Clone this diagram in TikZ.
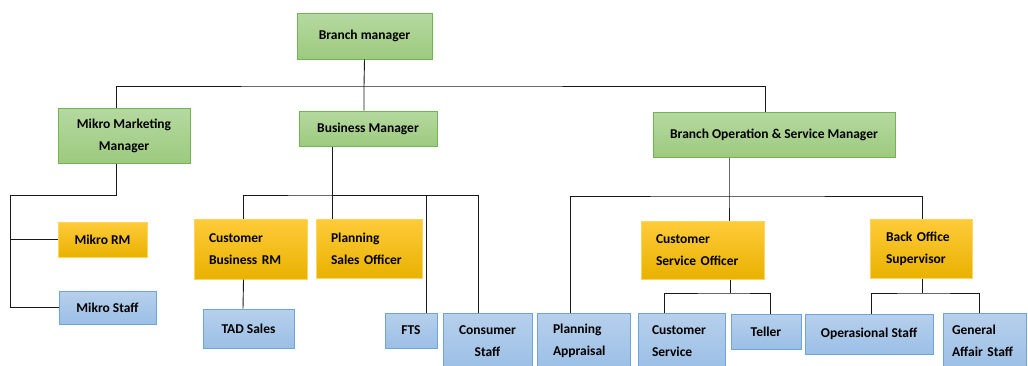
\documentclass[tikz,border=0pt]{standalone}
\usepackage{fontspec}
\setmainfont{Carlito}
\usetikzlibrary{positioning}
\newcommand{\chartfont}{\bfseries\fontsize{13.5}{22}\selectfont}
\definecolor{greenedge}{HTML}{74B352}
\definecolor{greentop}{HTML}{B5D9A0}
\definecolor{greenbot}{HTML}{9DCA7F}
\definecolor{orangeedge}{HTML}{FFD45C}
\definecolor{orangetop}{HTML}{FFCB3A}
\definecolor{orangebot}{HTML}{E8B200}
\definecolor{blueedge}{HTML}{6FA3DC}
\definecolor{bluetop}{HTML}{B7D0EC}
\definecolor{bluebot}{HTML}{9BBFE6}

\begin{document}
\begin{tikzpicture}[x=1pt, y=-1pt]
        \chartfont
        \useasboundingbox (0,0) rectangle (1028,365);
       \tikzstyle{greenbox} = [
            rectangle,
            draw=greenedge,
            line width=1pt,
            top color=greentop,
            bottom color=greenbot,
            inner sep=0pt,
            align=center
       ]
       \tikzstyle{orangebox} = [
            rectangle,
            draw=orangeedge,
            line width=1pt,
            top color=orangetop,
            bottom color=orangebot,
            inner sep=0pt,
            align=center
       ]
       \tikzstyle{bluebox} = [
            rectangle,
            draw=blueedge,
            line width=1pt,
            top color=bluetop,
            bottom color=bluebot,
            inner sep=0pt,
            align=center
       ]
       \tikzstyle{link} = [line width=0.9pt, draw=black!90]

       % managers
       \node (branch) at (364.5,36) [greenbox, minimum width=135, minimum height=46] {Branch manager};
       \node (mikromgr) at (124,135.5) [greenbox, minimum width=132, minimum height=55] {Mikro Marketing\\Manager};
       \node (business) at (368,128.5) [greenbox, minimum width=138, minimum height=35] {Business Manager};
       \node (operation) at (774,134.5) [greenbox, minimum width=242, minimum height=45] {Branch Operation \& Service Manager};

       % officers
       \node (mikrorm) at (102.5,239.5) [orangebox, minimum width=89, minimum height=35] {Mikro RM};
       \node (custrm) at (250.5,249) [orangebox, align=left, inner xsep=15, text width=83, minimum height=60] {Customer\\Business RM};
       \node (salesoff) at (369,248.5) [orangebox, align=left, inner xsep=15, text width=76, minimum height=59] {Planning\\Sales Officer};
       \node (servoff) at (702.5,250) [orangebox, align=left, inner xsep=15, text width=93, minimum height=58] {Customer\\Service Officer};
       \node (backoff) at (921,248.5) [orangebox, align=left, inner xsep=16, text width=70, minimum height=59] {Back Office\\Supervisor};

       % staff
       \node (mikrostaff) at (107.5,307.5) [bluebox, minimum width=97, minimum height=33] {Mikro Staff};
       \node (tad) at (248.5,328.5) [bluebox, minimum width=91, minimum height=39] {TAD Sales};
       \node (fts) at (411,330.5) [bluebox, minimum width=52, minimum height=35] {FTS};
       \node (consumer) at (487.5,341) [bluebox, minimum width=89, minimum height=56] {Consumer\\Staff};
       \node (appraisal) at (583.5,341) [bluebox, align=left, inner xsep=16, text width=61, minimum height=56] {Planning\\Appraisal};
       \node (custserv) at (681.5,341) [bluebox, align=left, inner xsep=14, text width=59, minimum height=56] {Customer\\Service};
       \node (teller) at (766,331.5) [bluebox, minimum width=70, minimum height=35] {Teller};
       \node (opstaff) at (869,334) [bluebox, minimum width=128, minimum height=40] {Operasional Staff};
       \node (affair) at (984.5,341) [bluebox, align=left, inner xsep=9, text width=65, minimum height=56] {General\\Affair Staff};

       % connectors
       \coordinate (j0) at (364,86);
       \draw[link] (branch.south) -- (j0) -- (j0 |- business.north);
       \draw[link] ([xshift=-8]mikromgr.north) |- (j0) -| ([xshift=-9]operation.north);

       \coordinate (j1) at (10,195);
       \draw[link] ([xshift=-8]mikromgr.south) |- (j1) |- (mikrostaff.west);
       \draw[link] (j1 |- mikrorm.west) -- (mikrorm.west);

       \coordinate (j2) at (332,195);
       \draw[link] (j2 |- business.south) -- (j2 |- salesoff.north);
       \draw[link] ([xshift=-7]custrm.north) |- (j2) -| ([xshift=-9]consumer.north);
       \draw[link] ([xshift=15]fts.north) |- (j2);
       \draw[link] ([xshift=-7]custrm.south) -- ([xshift=-5.5]tad.north);

       \coordinate (j3) at (729,196);
       \draw[link] ([xshift=-45]operation.south) -- (j3) -- (j3 |- servoff.north);
       \draw[link] ([xshift=-13.5]appraisal.north) |- (j3) -| ([xshift=1]backoff.north);

       \coordinate (j4) at (730,293);
       \draw[link] (j4 |- servoff.south) -- (j4);
       \draw[link] ([xshift=-17.5]custserv.north) |- (j4) -| ([xshift=4]teller.north);

       \coordinate (j5) at (922,293);
       \draw[link] (j5 |- backoff.south) -- (j5);
       \draw[link] ([xshift=2]opstaff.north) |- (j5) -| ([xshift=-5.5]affair.north);
    \end{tikzpicture}
\end{document}
